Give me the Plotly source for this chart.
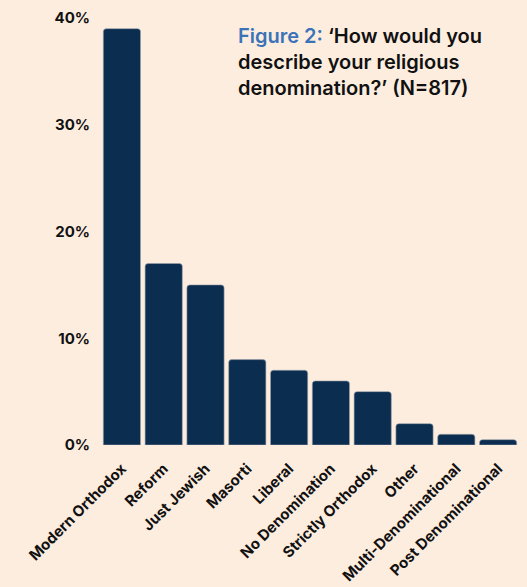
import plotly.graph_objects as go

categories = ["Modern Orthodox", "Reform", "Just Jewish", "Masorti", "Liberal",
              "No Denomination", "Strictly Orthodox", "Other",
              "Multi-Denominational", "Post Denominational"]
values = [39, 17, 15, 8, 7, 6, 5, 2, 1, 0.5]
tick_vals = [0, 10, 20, 30, 40]
tick_text = ["0%", "10%", "20%", "30%", "40%"]

BG = "#FDEDDF"
NAVY = "#0B2D4F"
FONT = "Inter"

fig = go.Figure(go.Bar(
    x=categories, y=values,
    marker=dict(color=NAVY, line=dict(color="#9aa3ad", width=0.6)),
    hoverinfo="skip",
))

fig.update_layout(
    width=527, height=587,
    paper_bgcolor=BG, plot_bgcolor=BG,
    margin=dict(l=101, r=8, t=18, b=142),
    bargap=0.11,
    barcornerradius=3,
    showlegend=False,
    font=dict(family=FONT, color="#111111"),
    xaxis=dict(showgrid=False, zeroline=False, showline=False, ticks="",
               tickangle=-45, ticklabelstandoff=11, automargin=False,
               tickfont=dict(size=15, weight=700, color="#111111")),
    yaxis=dict(range=[0, 40], tickvals=tick_vals, ticktext=tick_text,
               showgrid=False, zeroline=False, showline=False, ticks="",
               ticklabelstandoff=10, automargin=False,
               tickfont=dict(size=15, weight=700, color="#111111")),
)

fig.add_annotation(
    xref="paper", yref="paper", x=0.324, y=0.99, xanchor="left", yanchor="top",
    align="left", showarrow=False,
    text="<span style='color:#3B73B9'>Figure 2:</span> ‘How would you<br>describe your religious<br>denomination?’ (N=817)",
    font=dict(family=FONT, size=20, weight=600, color="#111111"),
)

fig.write_html("out.html")
